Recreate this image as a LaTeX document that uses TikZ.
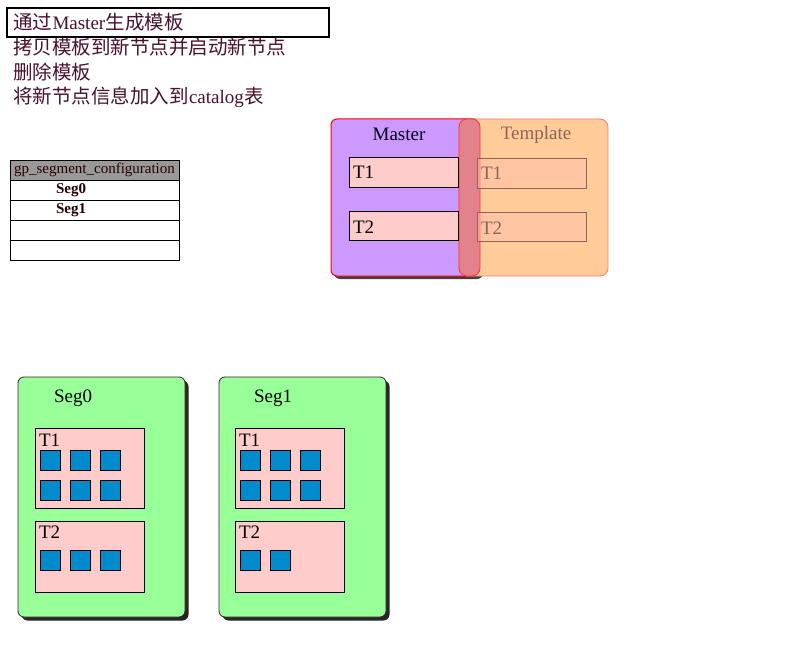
\documentclass[tikz,border=0pt]{standalone}
\usepackage{fontspec}
\setmainfont{Liberation Serif}
\newfontfamily\cjk{Noto Sans CJK SC}
\usetikzlibrary{shadows}
\definecolor{txt}{RGB}{74,16,48}
\definecolor{masterfill}{RGB}{204,153,255}
\definecolor{tplfill}{RGB}{255,204,153}
\definecolor{tplline}{RGB}{255,120,120}
\definecolor{stripfill}{RGB}{226,130,140}
\definecolor{pinkfill}{RGB}{255,204,204}
\definecolor{tpltbox}{RGB}{255,192,170}
\definecolor{tpltext}{RGB}{140,100,90}
\definecolor{segfill}{RGB}{153,255,153}
\definecolor{segline}{RGB}{60,30,40}
\definecolor{blockfill}{RGB}{0,140,204}
\definecolor{hdrfill}{RGB}{153,153,153}
\tikzset{
  plain/.style={inner sep=0pt, outer sep=0pt},
  zh/.style={plain, anchor=base west, text=txt, font=\cjk\fontsize{19.5pt}{22pt}\selectfont},
  lat/.style={plain, anchor=base west, text=txt, font=\rmfamily\fontsize{19pt}{22pt}\selectfont},
  masterbox/.style={plain, anchor=north west, draw=red, line width=1pt, fill=masterfill, rounded corners=6pt,
     drop shadow={shadow xshift=3pt, shadow yshift=-3pt, fill=black!75, opacity=1}},
  tplbox/.style={plain, anchor=north west, draw=tplline, line width=0.8pt, fill=tplfill, rounded corners=8pt},
  stripbox/.style={plain, anchor=north west, draw=red!80, line width=0.8pt, fill=stripfill, rounded corners=8pt},
  mtbox/.style={plain, anchor=north west, draw=black, line width=0.8pt, fill=pinkfill},
  ttbox/.style={plain, anchor=north west, draw=tpltext, line width=0.8pt, fill=tpltbox},
  segbox/.style={plain, anchor=north west, draw=segline, line width=0.8pt, fill=segfill, rounded corners=6pt,
     drop shadow={shadow xshift=3.5pt, shadow yshift=-3.5pt, fill=black!85, opacity=1}},
  tinner/.style={plain, anchor=north west, draw=black, line width=0.7pt, fill=pinkfill},
  blk/.style={plain, anchor=north west, draw=black, line width=0.8pt, fill=blockfill, minimum width=20pt, minimum height=20pt},
  lbl/.style={plain, font=\fontsize{19pt}{22pt}\selectfont},
  tlbl/.style={plain, anchor=west, font=\fontsize{19pt}{22pt}\selectfont},
  cell/.style={plain, anchor=north west, draw=black, line width=0.7pt, fill=white, minimum width=169pt, minimum height=20pt},
  celltext/.style={plain, font=\bfseries\fontsize{15pt}{17pt}\selectfont, text=black!85!red},
}
\begin{document}
\begin{tikzpicture}[x=1pt,y=-1pt]
\useasboundingbox[fill=white] (0,0) rectangle (800,650);

% steps
\node[plain, anchor=north west, draw=black, line width=2pt, minimum width=322pt, minimum height=29pt] (titlebox) at (7,8) {};
\node[zh] (s1a) at (13,30) {通过};
\node[lat] (s1b) at ([xshift=0.5pt]s1a.base east) {Master};
\node[zh] (s1c) at ([xshift=0.5pt]s1b.base east) {生成模板};
\node[zh] (s2) at (13,55) {拷贝模板到新节点并启动新节点};
\node[zh] (s3) at (13,80) {删除模板};
\node[zh] (s4a) at (13,104) {将新节点信息加入到};
\node[lat] (s4b) at ([xshift=0.5pt]s4a.base east) {catalog};
\node[zh] (s4c) at ([xshift=0.5pt]s4b.base east) {表};

% table
\node[cell, fill=hdrfill] (hdr) at (10,160) {};
\node[plain, font=\fontsize{15pt}{17pt}\selectfont, text=black!85!red] (hdrt) at (94.5,170) {gp\_segment\_configuration};
\node[cell] (r1) at (10,180) {};
\node[cell] (r2) at (10,200) {};
\node[cell] (r3) at (10,220) {};
\node[cell] (r4) at (10,240) {};
\node[celltext] (r1t) at (71,190) {Seg0};
\node[celltext] (r2t) at (71,210) {Seg1};

% master / template
\node[masterbox, minimum width=149pt, minimum height=157pt] (master) at (331,119) {};
\node[tplbox, minimum width=149pt, minimum height=157pt] (tpl) at (459,119) {};
\node[stripbox, minimum width=21pt, minimum height=157pt] (strip) at (459,119) {};
\node[lbl, text=black!90!blue] (mlbl) at (399,134) {Master};
\node[lbl, text=tpltext] (tlbl) at (536,135) {Template};
\node[mtbox, minimum width=109pt, minimum height=30pt] (mt1) at (349,157) {};
\node[mtbox, minimum width=109pt, minimum height=29pt] (mt2) at (349,211) {};
\node[tlbl] (mt1l) at (353,172) {T1};
\node[tlbl] (mt2l) at (353,227) {T2};
\node[ttbox, fill opacity=0.55, minimum width=109pt, minimum height=30pt] (tt1) at (477,158) {};
\node[ttbox, fill opacity=0.55, minimum width=109pt, minimum height=29pt] (tt2) at (477,212) {};
\node[tlbl, text=tpltext] (tt1l) at (481,173) {T1};
\node[tlbl, text=tpltext] (tt2l) at (481,228) {T2};

% Seg0
\node[segbox, minimum width=167pt, minimum height=240pt] (seg0) at (18,377) {};
\node[lbl] (seg0l) at (73,398) {Seg0};
\node[tinner, minimum width=109pt, minimum height=80pt] (s0t1) at (35,428) {};
\node[tlbl] (s0t1l) at (39,440) {T1};
\node[blk] (a1) at (40,450) {};
\node[blk] (a2) at (70,450) {};
\node[blk] (a3) at (100,450) {};
\node[blk] (a4) at (40,480) {};
\node[blk] (a5) at (70,480) {};
\node[blk] (a6) at (100,480) {};
\node[tinner, minimum width=109pt, minimum height=71pt] (s0t2) at (35,521) {};
\node[tlbl] (s0t2l) at (39,532) {T2};
\node[blk] (a7) at (40,550) {};
\node[blk] (a8) at (70,550) {};
\node[blk] (a9) at (100,550) {};

% Seg1
\node[segbox, minimum width=167pt, minimum height=240pt] (seg1) at (219,377) {};
\node[lbl] (seg1l) at (273,398) {Seg1};
\node[tinner, minimum width=109pt, minimum height=80pt] (s1t1) at (235,428) {};
\node[tlbl] (s1t1l) at (239,440) {T1};
\node[blk] (b1) at (240,450) {};
\node[blk] (b2) at (270,450) {};
\node[blk] (b3) at (300,450) {};
\node[blk] (b4) at (240,480) {};
\node[blk] (b5) at (270,480) {};
\node[blk] (b6) at (300,480) {};
\node[tinner, minimum width=109pt, minimum height=71pt] (s1t2) at (235,521) {};
\node[tlbl] (s1t2l) at (239,532) {T2};
\node[blk] (b7) at (240,550) {};
\node[blk] (b8) at (270,550) {};
\end{tikzpicture}
\end{document}
